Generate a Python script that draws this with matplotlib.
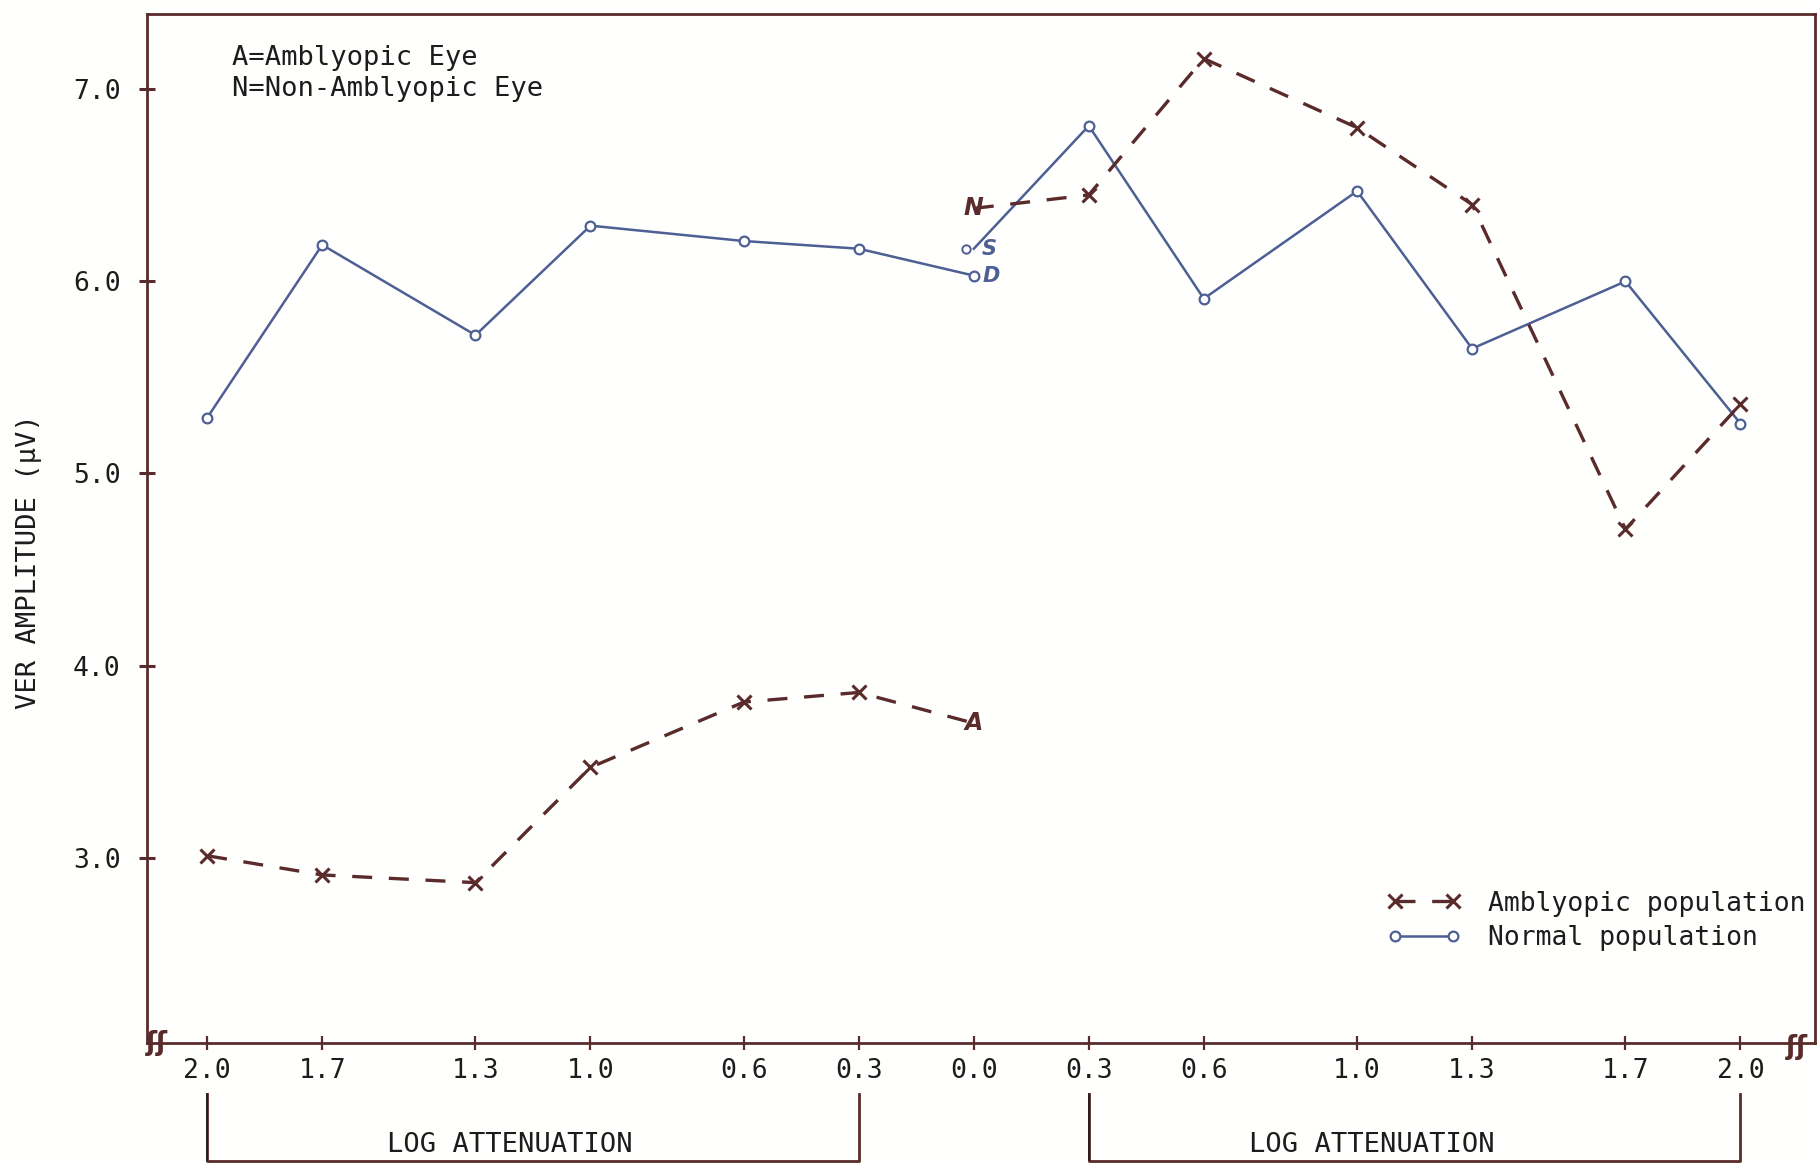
import matplotlib
matplotlib.use("Agg")
import matplotlib.pyplot as plt

# log attenuation, left half drawn negative so the scale runs 2.0 .. 0.0 .. 2.0
xticks = [-2.0, -1.7, -1.3, -1.0, -0.6, -0.3, 0.0, 0.3, 0.6, 1.0, 1.3, 1.7, 2.0]
xticklabels = ["2.0", "1.7", "1.3", "1.0", "0.6", "0.3", "0.0",
               "0.3", "0.6", "1.0", "1.3", "1.7", "2.0"]
yticks = [3.0, 4.0, 5.0, 6.0, 7.0]

# normal population, OD on the left, OS on the right
normal_left_x = [-2.0, -1.7, -1.3, -1.0, -0.6, -0.3, 0.0]
normal_left_y = [5.29, 6.19, 5.72, 6.29, 6.21, 6.17, 6.03]
normal_right_x = [0.0, 0.3, 0.6, 1.0, 1.3, 1.7, 2.0]
normal_right_y = [6.17, 6.81, 5.91, 6.47, 5.65, 6.00, 5.26]

# amblyopic population, amblyopic eye (A) left, non-amblyopic eye (N) right
ambly_left_x = [-2.0, -1.7, -1.3, -1.0, -0.6, -0.3, 0.0]
ambly_left_y = [3.01, 2.91, 2.87, 3.47, 3.81, 3.86, 3.70]
ambly_right_x = [0.0, 0.3, 0.6, 1.0, 1.3, 1.7, 2.0]
ambly_right_y = [6.38, 6.45, 7.16, 6.80, 6.40, 4.71, 5.36]

# bracket ranges and where their captions sit
brackets = [(-2.0, -0.3, -1.21), (0.3, 2.0, 1.038)]

blue = "#4d5f93"
brown = "#5a2b2b"
ink = "#1c1c1c"
mono = "DejaVu Sans Mono"

fig = plt.figure(figsize=(18.17, 11.65), dpi=100)
fig.patch.set_facecolor("#fffffd")
ax = fig.add_axes([0.0809, 0.1047, 0.9181, 0.8833])
ax.set_facecolor("#fffffd")

dash = (0, (6, 5))
ax.plot(normal_left_x, normal_left_y, color=blue, lw=1.8, marker="o", ms=7,
        mfc="white", mec=blue, mew=1.6, label="Normal population")
ax.plot(normal_right_x, normal_right_y, color=blue, lw=1.8, marker="o", ms=7,
        mfc="white", mec=blue, mew=1.6, markevery=list(range(1, 7)))
ax.plot(normal_right_x[0] - 0.02, normal_right_y[0], "o", ms=6, mfc="white",
        mec=blue, mew=1.4)

ax.plot(ambly_left_x, ambly_left_y, color=brown, lw=2.4, linestyle=dash,
        marker="x", ms=10, mew=2.2, mec=brown, markevery=list(range(6)),
        label="Amblyopic population")
ax.plot(ambly_right_x, ambly_right_y, color=brown, lw=2.4, linestyle=dash,
        marker="x", ms=10, mew=2.2, mec=brown, markevery=list(range(1, 7)))

# handwritten end labels
hand = dict(color=brown, fontsize=17, fontstyle="italic", fontweight="bold",
            ha="center", va="center")
ax.text(ambly_left_x[-1], ambly_left_y[-1], "A", **hand)
ax.text(ambly_right_x[0], ambly_right_y[0], "N", **hand)
ax.text(normal_right_x[0] + 0.04, normal_right_y[0], "S",
        **dict(hand, color=blue, fontsize=15))
ax.text(normal_left_x[-1] + 0.045, normal_left_y[-1], "D",
        **dict(hand, color=blue, fontsize=15))

ax.set_xlim(-2.157, 2.195)
ax.set_ylim(2.035, 7.392)
ax.set_xticks(xticks)
ax.set_xticklabels(xticklabels, fontfamily=mono, fontsize=19, color=ink)
ax.set_yticks(yticks)
ax.set_yticklabels(["%.1f" % v for v in yticks], fontfamily=mono, fontsize=19,
                   color=ink)
ax.tick_params(axis="y", direction="inout", length=12, width=2.2,
               color=brown, pad=13)
ax.tick_params(axis="x", direction="inout", length=10, width=1.6,
               color=brown, pad=6)
for side in ["left", "bottom", "top", "right"]:
    ax.spines[side].set_color(brown)
    ax.spines[side].set_linewidth(2.0)

fig.text(0.016, 0.518, "VER AMPLITUDE (\u03bcV)", rotation=90, ha="center",
         va="center", fontfamily=mono, fontsize=19.5, color=ink)

ax.text(0.051, 0.957, "A=Amblyopic Eye", transform=ax.transAxes,
        fontfamily=mono, fontsize=19.5, color=ink, va="center")
ax.text(0.051, 0.927, "N=Non-Amblyopic Eye", transform=ax.transAxes,
        fontfamily=mono, fontsize=19.5, color=ink, va="center")

# axis break marks
ax.text(0.006, 0.0, "\u0283\u0283", transform=ax.transAxes, fontsize=19,
        color=brown, ha="center", va="center", fontweight="bold")
ax.text(0.989, -0.004, "\u0283\u0283", transform=ax.transAxes, fontsize=19,
        color=brown, ha="center", va="center", fontweight="bold")

# brackets under the two halves
tr = ax.get_xaxis_transform()
for x0, x1, xc in brackets:
    ax.plot([x0, x0, x1, x1], [-0.05, -0.115, -0.115, -0.05], color=brown,
            lw=2.0, transform=tr, clip_on=False)
    ax.plot([x0, x0], [-0.05, -0.114], color=ink, lw=1.2, transform=tr,
            clip_on=False)
    ax.text(xc, -0.112, "LOG ATTENUATION", transform=tr,
            ha="center", va="bottom", fontfamily=mono, fontsize=19.5, color=ink)

handles, labels = ax.get_legend_handles_labels()
leg = ax.legend(handles[::-1], labels[::-1], loc="upper left",
                bbox_to_anchor=(0.7435, 0.148), frameon=False, numpoints=2,
                handlelength=2.8, handletextpad=1.0, borderpad=0,
                borderaxespad=0, labelspacing=0.32,
                prop={"family": mono, "size": 19})
for t in leg.get_texts():
    t.set_color(ink)

fig.savefig("out.png", dpi=100, facecolor=fig.get_facecolor())
